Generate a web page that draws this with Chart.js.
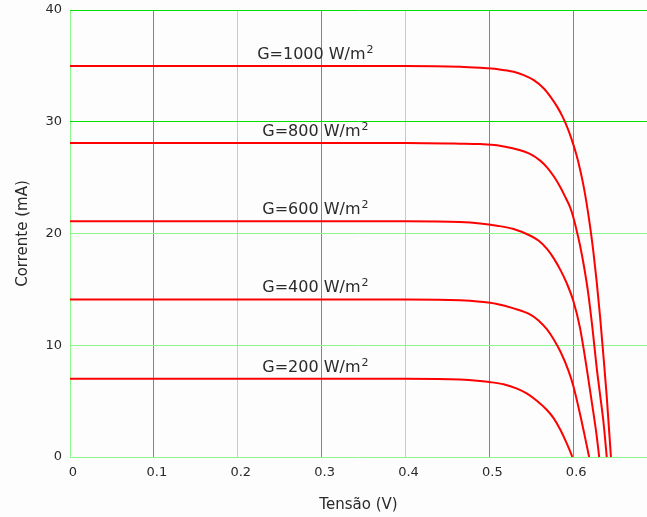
<!DOCTYPE html>
<html>
<head>
<meta charset="utf-8">
<script src="https://cdn.jsdelivr.net/npm/chart.js@4/dist/chart.umd.min.js"></script>
<style>
  html, body { margin: 0; padding: 0; background: #fdfdfd; }
  canvas { display: block; }
</style>
</head>
<body>
<canvas id="ivChart" width="647" height="517"></canvas>
<script>
// irradiance levels and the I-V readings (V in volts, I in mA)
const irradiance = [1000, 800, 600, 400, 200];

const v1000 = [0, 0.1, 0.2, 0.3, 0.4, 0.465, 0.489, 0.509, 0.529, 0.541, 0.553, 0.565, 0.573, 0.581, 0.587, 0.594, 0.6, 0.604, 0.608, 0.612, 0.616, 0.62, 0.624, 0.628, 0.632, 0.636, 0.64, 0.645];
const i1000 = [35.0, 35.0, 35.0, 35.0, 35.0, 34.93, 34.83, 34.71, 34.47, 34.17, 33.72, 32.98, 32.23, 31.33, 30.5, 29.3, 28.0, 27.0, 25.8, 24.4, 22.7, 20.7, 18.4, 15.7, 12.6, 9.1, 5.4, 0];

const v800 = [0, 0.1, 0.2, 0.3, 0.4, 0.465, 0.489, 0.509, 0.529, 0.549, 0.561, 0.569, 0.577, 0.585, 0.591, 0.596, 0.6, 0.604, 0.608, 0.613, 0.618, 0.623, 0.628, 0.632, 0.636, 0.64];
const i800 = [28.1, 28.1, 28.1, 28.1, 28.1, 28.04, 28.0, 27.9, 27.6, 27.1, 26.5, 25.9, 25.1, 24.1, 23.2, 22.4, 21.5, 20.3, 19.0, 17.0, 14.6, 11.5, 8.0, 5.6, 3.2, 0];

const v600 = [0, 0.1, 0.2, 0.3, 0.4, 0.465, 0.489, 0.509, 0.529, 0.549, 0.559, 0.569, 0.577, 0.585, 0.592, 0.6, 0.608, 0.616, 0.622, 0.628, 0.631];
const i600 = [21.1, 21.1, 21.1, 21.1, 21.1, 21.03, 20.9, 20.7, 20.4, 19.8, 19.35, 18.6, 17.75, 16.7, 15.6, 14.0, 11.6, 8.0, 5.0, 1.9, 0];

const v400 = [0, 0.1, 0.2, 0.3, 0.4, 0.465, 0.489, 0.509, 0.529, 0.549, 0.559, 0.569, 0.577, 0.585, 0.594, 0.6, 0.608, 0.614, 0.619];
const i400 = [14.1, 14.1, 14.1, 14.1, 14.1, 14.03, 13.9, 13.7, 13.3, 12.75, 12.2, 11.4, 10.5, 9.4, 7.8, 6.4, 3.9, 1.8, 0];

const v200 = [0, 0.1, 0.2, 0.3, 0.4, 0.465, 0.489, 0.5, 0.517, 0.533, 0.545, 0.557, 0.569, 0.577, 0.585, 0.59, 0.595, 0.599];
const i200 = [7.0, 7.0, 7.0, 7.0, 7.0, 6.93, 6.8, 6.71, 6.51, 6.12, 5.67, 5.01, 4.18, 3.43, 2.39, 1.6, 0.75, 0];

const xTicks = [0, 0.1, 0.2, 0.3, 0.4, 0.5, 0.6];
const yTicks = [0, 10, 20, 30, 40];

const curves = [
  [v1000, i1000],
  [v800, i800],
  [v600, i600],
  [v400, i400],
  [v200, i200],
];

const GREEN = 'rgb(0, 225, 0)';
const GREEN_LIGHT = 'rgb(140, 245, 140)';
const TEXT = '#2a2a2a';

function toPoints(vs, is) {
  return vs.map((v, k) => ({ x: v, y: is[k] }));
}

// "G=xxx W/m²" captions sitting just above each flat part
const curveLabels = {
  id: 'curveLabels',
  afterDatasetsDraw(chart) {
    const { ctx, scales } = chart;
    const cx = scales.x.getPixelForValue(0.292);
    ctx.save();
    ctx.fillStyle = TEXT;
    ctx.textBaseline = 'alphabetic';
    ctx.textAlign = 'left';
    irradiance.forEach((g, idx) => {
      const isc = curves[idx][1][0];
      const y = scales.y.getPixelForValue(isc) - 7;
      const main = `G=${g} W/m`;
      ctx.font = '16px "DejaVu Sans", sans-serif';
      const w1 = ctx.measureText(main).width;
      ctx.font = '11px "DejaVu Sans", sans-serif';
      const w2 = ctx.measureText('2').width;
      const x0 = cx - (w1 + w2) / 2;
      ctx.font = '16px "DejaVu Sans", sans-serif';
      ctx.fillText(main, x0, y);
      ctx.font = '11px "DejaVu Sans", sans-serif';
      ctx.fillText('2', x0 + w1 + 1, y - 6);
    });
    ctx.restore();
  },
};

new Chart(document.getElementById('ivChart'), {
  type: 'line',
  data: {
    datasets: curves.map(([vs, is], idx) => ({
      label: `G=${irradiance[idx]}`,
      data: toPoints(vs, is),
      borderColor: '#ff0000',
      borderWidth: 2,
      pointRadius: 0,
      fill: false,
      cubicInterpolationMode: 'monotone',
    })),
  },
  options: {
    responsive: false,
    animation: false,
    devicePixelRatio: 1,
    layout: { padding: { top: 10, right: 0, left: 0, bottom: 0 } },
    plugins: {
      legend: { display: false },
      tooltip: { enabled: false },
    },
    scales: {
      x: {
        type: 'linear',
        min: 0,
        max: 0.688,
        afterBuildTicks(scale) {
          scale.ticks = xTicks.map((value) => ({ value }));
        },
        afterFit(scale) {
          scale.height = 60;
          scale.paddingRight = 0;
        },
        border: { display: false },
        grid: {
          drawTicks: false,
          lineWidth: 1,
          color: [GREEN_LIGHT, GREEN, GREEN_LIGHT, GREEN, GREEN_LIGHT, GREEN, GREEN],
        },
        ticks: {
          padding: 8,
          labelOffset: 3,
          color: TEXT,
          font: { family: '"DejaVu Sans", sans-serif', size: 13 },
          callback: (v) => (v === 0 ? '0' : Number(v).toFixed(1)),
        },
        title: {
          display: true,
          text: 'Tensão (V)',
          color: TEXT,
          font: { family: '"DejaVu Sans", sans-serif', size: 15 },
          padding: { top: 0, bottom: 3 },
        },
      },
      y: {
        min: 0,
        max: 40,
        afterBuildTicks(scale) {
          scale.ticks = yTicks.map((value) => ({ value }));
        },
        afterFit(scale) {
          scale.width = 70;
          scale.paddingTop = 0;
          scale.paddingBottom = 0;
        },
        border: { display: false },
        grid: {
          drawTicks: false,
          lineWidth: 1,
          color: [GREEN_LIGHT, GREEN_LIGHT, GREEN_LIGHT, GREEN, GREEN],
        },
        ticks: {
          padding: 8,
          color: TEXT,
          font: { family: '"DejaVu Sans", sans-serif', size: 13 },
        },
        title: {
          display: true,
          text: 'Corrente (mA)',
          color: TEXT,
          font: { family: '"DejaVu Sans", sans-serif', size: 15 },
          padding: { top: 14, bottom: 0 },
        },
      },
    },
  },
  plugins: [curveLabels],
});
</script>
</body>
</html>
